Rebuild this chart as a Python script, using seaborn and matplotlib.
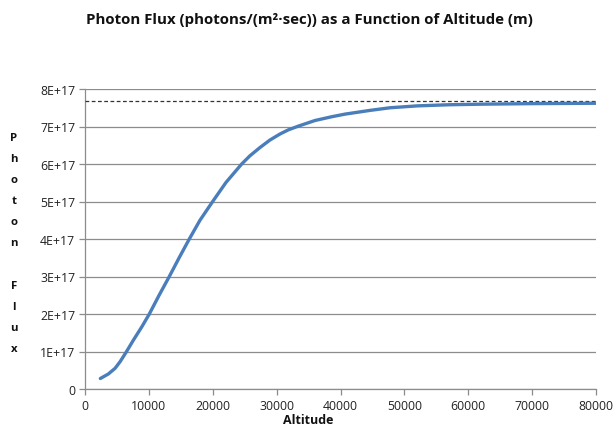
import matplotlib
matplotlib.use("Agg")
import matplotlib.pyplot as plt
import seaborn as sns
import pandas as pd

# ---- data ----
altitude = [2400, 3650, 4700, 5500, 6400, 7600, 8900, 10070, 11600, 13200, 14770,
            16330, 18000, 19990, 22080, 24530, 25830, 27400, 28960, 30530, 31830,
            33400, 36010, 38620, 40700, 44640, 47770, 52000, 57000, 62000, 70000, 80000]
photon_flux = [0.28e17, 0.40e17, 0.55e17, 0.73e17, 0.97e17, 1.31e17, 1.66e17, 2.0e17,
               2.5e17, 3.0e17, 3.51e17, 4.0e17, 4.5e17, 5.0e17, 5.51e17, 6.0e17,
               6.22e17, 6.44e17, 6.64e17, 6.8e17, 6.91e17, 7.01e17, 7.16e17, 7.26e17,
               7.33e17, 7.43e17, 7.5e17, 7.55e17, 7.58e17, 7.595e17, 7.61e17, 7.62e17]
asymptote = 7.68e17
x_ticks = [0, 10000, 20000, 30000, 40000, 50000, 60000, 70000, 80000]
y_ticks = [0, 1e17, 2e17, 3e17, 4e17, 5e17, 6e17, 7e17, 8e17]
y_tick_labels = ["0", "1E+17", "2E+17", "3E+17", "4E+17", "5E+17", "6E+17", "7E+17", "8E+17"]

df = pd.DataFrame({"Altitude": altitude, "Flux": photon_flux})

sns.set_style("white")
plt.rcParams["font.family"] = ["Open Sans", "DejaVu Sans"]

fig = plt.figure(figsize=(6.16, 4.27), dpi=100)
ax = fig.add_axes([85/616, 1-390/427, (596-85)/616, (390-90)/427])

ax.set_ylim(0, 8e17)
ax.set_xlim(0, 80000)
ax.set_yticks(y_ticks)
ax.set_yticklabels(y_tick_labels)
ax.set_xticks(x_ticks)
ax.set_xticklabels([str(v) for v in x_ticks])
ax.grid(axis="y", color="#8c8c8c", linewidth=0.9)
ax.set_axisbelow(True)

ax.axhline(asymptote, color="#333333", linewidth=0.9, linestyle=(0, (3, 2)), zorder=3)
sns.lineplot(data=df, x="Altitude", y="Flux", ax=ax, color="#4a7ebb", linewidth=2.4,
             zorder=4, solid_joinstyle="round", solid_capstyle="round")

for s in ["top", "right"]:
    ax.spines[s].set_visible(False)
for s in ["left", "bottom"]:
    ax.spines[s].set_color("#8c8c8c")
    ax.spines[s].set_linewidth(0.9)
ax.tick_params(axis="both", which="both", direction="out", length=4, width=0.9,
               color="#8c8c8c", labelsize=8.8, labelcolor="#222222", pad=3, bottom=True, left=True)
ax.set_xlabel("")
ax.set_ylabel("")

fig.text(309/616, 1-20/427, "Photon Flux (photons/(m²·sec)) as a Function of Altitude (m)",
         ha="center", va="center", fontsize=10.8, fontweight="bold", color="#111111")
fig.text(308/616, 1-421/427, "Altitude", ha="center", va="center", fontsize=9,
         fontweight="bold", color="#111111")
fig.text(14/616, 1-244/427, "P\nh\no\nt\no\nn\n\nF\nl\nu\nx", ha="center", va="center",
         fontsize=8.2, fontweight="bold", linespacing=2.26, color="#111111")

fig.savefig("out.png", dpi=100)
